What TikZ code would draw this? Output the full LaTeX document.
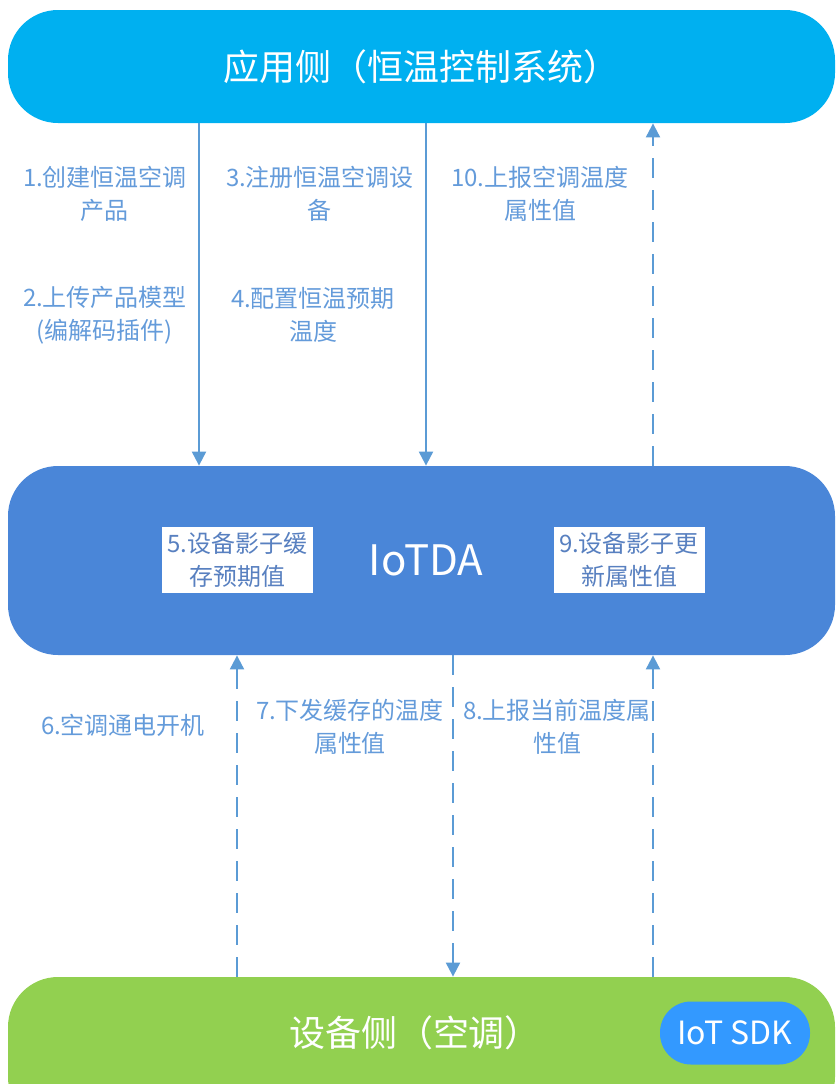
\documentclass[tikz,border=0pt]{standalone}
\usepackage{fontspec}
\usepackage{xcolor}
\setmainfont{Noto Sans CJK SC}
\usetikzlibrary{arrows.meta}

\definecolor{appblue}{RGB}{0,176,240}
\definecolor{iotblue}{RGB}{74,134,216}
\definecolor{devgreen}{RGB}{146,208,80}
\definecolor{sdkblue}{RGB}{51,153,255}
\definecolor{linkblue}{RGB}{91,155,213}
\definecolor{stepblue}{RGB}{100,155,218}
\definecolor{boxtext}{RGB}{88,128,192}

\begin{document}
\begin{tikzpicture}[x=0.5pt,y=-0.5pt]
\tikzset{sidebox/.style={rounded corners=25pt,minimum width=413.5pt,inner sep=0pt}}
\tikzset{sidetext/.style={text=white,font=\fontsize{18}{20}\selectfont}}
\tikzset{shadowbox/.style={fill=white,text=boxtext,align=center,font=\fontsize{12}{16.5}\selectfont,minimum width=75.5pt,minimum height=33pt,inner sep=0pt}}
\tikzset{steplabel/.style={text=stepblue,align=center,font=\fontsize{12}{16.5}\selectfont}}
\tikzset{link/.style={linkblue,line width=1pt,-{Triangle[width=7pt,length=7pt]}}}
\tikzset{backlink/.style={link,dash pattern=on 10pt off 6pt}}

\useasboundingbox (0,0) rectangle (837,1084);
\clip (0,0) rectangle (837,1084);

% the three sides
\node[sidebox,sidetext,fill=appblue,minimum height=56.5pt] (app) at (421.5,66.5) {应用侧（恒温控制系统）};
\node[sidebox,fill=iotblue,minimum height=94.5pt] (iotda) at (421.5,560.5) {};
\node[sidebox,fill=devgreen,minimum height=75pt] (dev) at (421.5,1052) {};
\node[sidetext] (devname) at (415,1033) {设备侧（空调）};
\node[fill=sdkblue,rounded corners=15.5pt,minimum width=75pt,minimum height=31.5pt,inner sep=0pt,text=white,font=\fontsize{16}{18}\selectfont] (sdk) at (735,1033) {IoT SDK};

% inside IoTDA
\node[text=white,font=\fontsize{21}{24}\selectfont] (iotname) at (426,560) {IoTDA};
\node[shadowbox] (cache) at (237.5,560) {5.设备影子缓\\存预期值};
\node[shadowbox] (update) at (629,560) {9.设备影子更\\新属性值};

% connectors
\coordinate (c1) at (199,0);
\coordinate (c2) at (426,0);
\coordinate (c3) at (653,0);
\coordinate (c4) at (237,0);
\coordinate (c5) at (453,0);
\draw[link] (c1 |- app.south) -- (c1 |- iotda.north);
\draw[link] (c2 |- app.south) -- (c2 |- iotda.north);
\draw[backlink] (c3 |- iotda.north) -- (c3 |- app.south);
\draw[backlink] (c4 |- dev.north) -- (c4 |- iotda.south);
\draw[backlink] (c5 |- iotda.south) -- (c5 |- dev.north);
\draw[backlink] (c3 |- dev.north) -- (c3 |- iotda.south);

% step labels
\node[steplabel] (s1) at (105,194) {1.创建恒温空调\\产品};
\node[steplabel] (s2) at (105,315) {2.上传产品模型\\(编解码插件)};
\node[steplabel] (s3) at (320,194) {3.注册恒温空调设\\备};
\node[steplabel] (s4) at (313,315) {4.配置恒温预期\\温度};
\node[steplabel] (s10) at (540,194) {10.上报空调温度\\属性值};
\node[steplabel] (s6) at (123,725) {6.空调通电开机};
\node[steplabel] (s7) at (350,727) {7.下发缓存的温度\\属性值};
\node[steplabel] (s8) at (557,727) {8.上报当前温度属\\性值};

\end{tikzpicture}
\end{document}
